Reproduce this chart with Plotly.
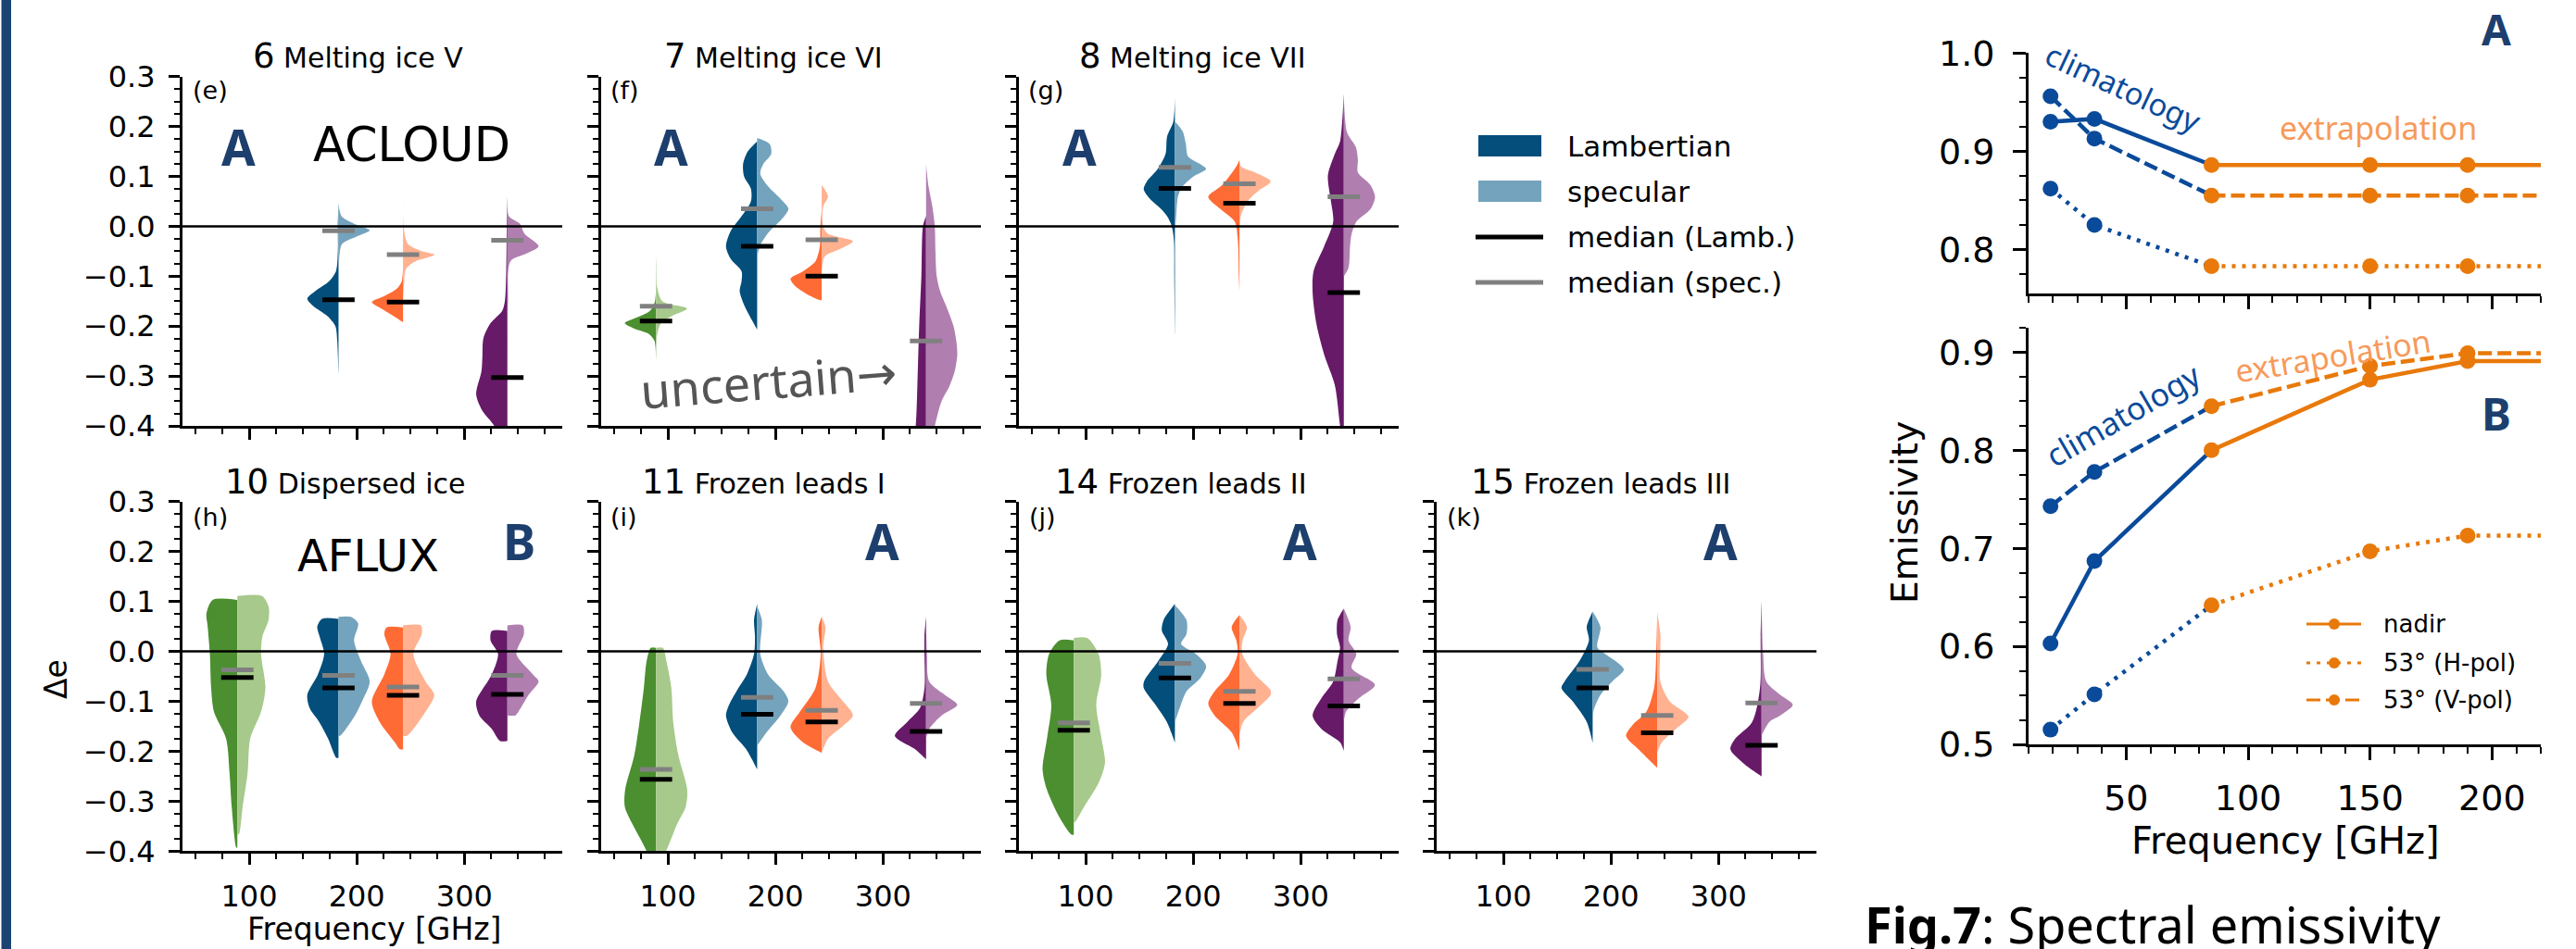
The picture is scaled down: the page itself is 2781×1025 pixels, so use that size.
import plotly.graph_objects as go

# ---------------- DATA ----------------
freqs = [89, 183, 243, 340]

# Violin half profiles: (delta_e, relative half width)
# Each entry: freq -> (lambertian profile, specular profile, median lamb, median spec)
panel_e = {
    183: ([(0.046, 0), (0.0, 0.02), (-0.05, 0.02), (-0.09, 0.08), (-0.11, 0.3), (-0.13, 0.75), (-0.145, 1.0), (-0.16, 0.8), (-0.18, 0.35), (-0.2, 0.1), (-0.23, 0.04), (-0.294, 0)],
          [(0.046, 0), (0.02, 0.1), (0.005, 0.5), (-0.008, 1.0), (-0.02, 0.6), (-0.035, 0.12), (-0.06, 0.03), (-0.15, 0.02), (-0.29, 0)],
          -0.147, -0.009),
    243: ([(-0.08, 0), (-0.11, 0.04), (-0.125, 0.2), (-0.14, 0.6), (-0.152, 1.0), (-0.165, 0.7), (-0.18, 0.3), (-0.192, 0)],
          [(0.06, 0), (0.0, 0.02), (-0.035, 0.15), (-0.05, 0.6), (-0.057, 1.0), (-0.07, 0.4), (-0.085, 0.1), (-0.12, 0.03), (-0.15, 0)],
          -0.152, -0.057),
    340: ([(0.06, 0), (0.0, 0.02), (-0.1, 0.04), (-0.15, 0.08), (-0.17, 0.17), (-0.195, 0.55), (-0.225, 0.77), (-0.26, 0.8), (-0.29, 0.83), (-0.337, 1.0), (-0.37, 0.8), (-0.4, 0.42), (-0.45, 0.1), (-0.5, 0)],
          [(0.052, 0), (0.02, 0.05), (0.005, 0.4), (-0.015, 0.55), (-0.04, 1.0), (-0.055, 0.6), (-0.07, 0.1), (-0.15, 0.02), (-0.3, 0)],
          -0.303, -0.028),
}
panel_f = {
    89: ([(-0.06, 0), (-0.15, 0.03), (-0.17, 0.2), (-0.185, 0.7), (-0.194, 1.0), (-0.205, 0.7), (-0.215, 0.25), (-0.23, 0.05), (-0.266, 0)],
         [(-0.06, 0), (-0.12, 0.03), (-0.15, 0.2), (-0.165, 1.0), (-0.18, 0.5), (-0.195, 0.15), (-0.22, 0.03), (-0.26, 0)],
         -0.19, -0.16),
    183: ([(0.17, 0), (0.15, 0.3), (0.125, 0.45), (0.1, 0.42), (0.075, 0.2), (0.05, 0.2), (0.02, 0.5), (-0.01, 0.85), (-0.04, 1.0), (-0.065, 0.85), (-0.09, 0.5), (-0.11, 0.5), (-0.13, 0.56), (-0.16, 0.4), (-0.19, 0.15), (-0.207, 0)],
          [(0.177, 0), (0.165, 0.4), (0.145, 0.45), (0.125, 0.2), (0.105, 0.1), (0.08, 0.35), (0.055, 0.75), (0.035, 1.0), (0.015, 0.8), (-0.01, 0.4), (-0.035, 0.12), (-0.06, 0)],
          -0.04, 0.035),
    243: ([(0.031, 0), (0.0, 0.04), (-0.04, 0.06), (-0.07, 0.2), (-0.09, 0.6), (-0.105, 1.0), (-0.12, 0.85), (-0.135, 0.5), (-0.148, 0.05)],
          [(0.083, 0), (0.06, 0.2), (0.04, 0.05), (0.0, 0.05), (-0.015, 0.2), (-0.03, 1.0), (-0.045, 0.6), (-0.06, 0.1), (-0.08, 0.02), (-0.09, 0)],
          -0.1, -0.027),
    340: ([(0.02, 0), (0.0, 0.1), (-0.1, 0.15), (-0.2, 0.22), (-0.3, 0.27), (-0.4, 0.33), (-0.45, 0.45), (-0.5, 0.6)],
          [(0.124, 0), (0.08, 0.08), (0.04, 0.2), (0.0, 0.28), (-0.05, 0.3), (-0.1, 0.34), (-0.13, 0.45), (-0.164, 0.67), (-0.2, 0.88), (-0.23, 0.97), (-0.257, 1.0), (-0.29, 0.92), (-0.32, 0.75), (-0.35, 0.5), (-0.4, 0.28), (-0.45, 0.1), (-0.5, 0)],
          -0.46, -0.23),
}
panel_g = {
    183: ([(0.257, 0), (0.21, 0.05), (0.18, 0.25), (0.145, 0.3), (0.115, 0.55), (0.09, 0.9), (0.074, 1.0), (0.055, 0.8), (0.035, 0.45), (0.02, 0.25), (0.0, 0.1), (-0.03, 0.03), (-0.1, 0.02), (-0.216, 0)],
          [(0.21, 0), (0.19, 0.25), (0.165, 0.35), (0.14, 0.42), (0.125, 0.8), (0.115, 1.0), (0.1, 0.6), (0.08, 0.25), (0.06, 0.1), (0.02, 0.04), (-0.02, 0)],
          0.076, 0.118),
    243: ([(0.133, 0), (0.12, 0.1), (0.083, 0.55), (0.059, 1.0), (0.034, 0.6), (0.009, 0.15), (-0.03, 0.05), (-0.1, 0.02), (-0.13, 0)],
          [(0.145, 0), (0.12, 0.05), (0.108, 0.5), (0.09, 1.0), (0.071, 0.6), (0.053, 0.3), (0.022, 0.05), (-0.02, 0)],
          0.046, 0.085),
    340: ([(0.266, 0), (0.17, 0.12), (0.145, 0.29), (0.102, 0.51), (0.053, 0.42), (0.009, 0.34), (-0.04, 0.63), (-0.09, 0.97), (-0.133, 1.0), (-0.195, 0.88), (-0.257, 0.63), (-0.318, 0.29), (-0.4, 0.12), (-0.45, 0)],
          [(0.269, 0), (0.189, 0.1), (0.158, 0.39), (0.133, 0.45), (0.108, 0.45), (0.083, 0.85), (0.059, 1.0), (0.034, 0.85), (0.009, 0.4), (-0.015, 0.25), (-0.04, 0.2), (-0.083, 0.15), (-0.1, 0)],
          -0.133, 0.059),
}
panel_h = {
    89: ([(0.103, 0.79), (0.076, 0.99), (0.049, 0.95), (-0.005, 0.88), (-0.073, 0.84), (-0.121, 0.75), (-0.175, 0.36), (-0.243, 0.25), (-0.311, 0.18), (-0.393, 0.03)],
         [(0.111, 0.79), (0.09, 1.0), (0.063, 1.0), (0.029, 0.8), (-0.005, 0.76), (-0.073, 0.9), (-0.121, 0.76), (-0.175, 0.41), (-0.243, 0.33), (-0.311, 0.17), (-0.366, 0.05)],
         -0.052, -0.037),
    183: ([(0.065, 0.53), (0.049, 0.68), (0.029, 0.6), (-0.005, 0.46), (-0.046, 0.66), (-0.087, 1.0), (-0.114, 0.92), (-0.141, 0.62), (-0.175, 0.33), (-0.213, 0.07)],
          [(0.069, 0.4), (0.056, 0.63), (0.022, 0.5), (-0.019, 0.72), (-0.06, 1.0), (-0.094, 0.8), (-0.128, 0.53), (-0.169, 0.05)],
          -0.073, -0.048),
    243: ([(0.048, 0.53), (0.035, 0.6), (-0.005, 0.4), (-0.046, 0.6), (-0.1, 1.0), (-0.141, 0.75), (-0.182, 0.26), (-0.196, 0.1)],
          [(0.052, 0.57), (0.035, 0.6), (-0.005, 0.33), (-0.06, 0.72), (-0.087, 1.0), (-0.121, 0.72), (-0.169, 0.13)],
          -0.088, -0.071),
    340: ([(0.041, 0.5), (0.022, 0.54), (-0.005, 0.3), (-0.046, 0.5), (-0.1, 1.0), (-0.128, 0.9), (-0.155, 0.5), (-0.179, 0.24)],
          [(0.052, 0.49), (0.035, 0.53), (-0.005, 0.29), (-0.046, 0.82), (-0.06, 1.0), (-0.087, 0.68), (-0.114, 0.42), (-0.128, 0.26)],
          -0.086, -0.048),
}
panel_i = {
    89: ([(0.007, 0.17), (-0.019, 0.3), (-0.073, 0.39), (-0.141, 0.53), (-0.209, 0.7), (-0.277, 0.99), (-0.311, 1.0), (-0.345, 0.76), (-0.4, 0.3), (-0.45, 0.05)],
         [(0.007, 0.22), (-0.019, 0.33), (-0.073, 0.49), (-0.141, 0.55), (-0.209, 0.72), (-0.277, 1.0), (-0.311, 0.95), (-0.345, 0.68), (-0.4, 0.32), (-0.43, 0.05)],
         -0.256, -0.236),
    183: ([(0.095, 0), (0.063, 0.1), (0.029, 0.07), (-0.005, 0.1), (-0.046, 0.33), (-0.073, 0.6), (-0.107, 0.9), (-0.128, 1.0), (-0.162, 0.8), (-0.196, 0.35), (-0.236, 0)],
          [(0.09, 0), (0.063, 0.15), (-0.005, 0.1), (-0.046, 0.35), (-0.08, 0.85), (-0.1, 1.0), (-0.128, 0.75), (-0.162, 0.3), (-0.189, 0)],
          -0.126, -0.092),
    243: ([(0.069, 0), (0.049, 0.1), (-0.005, 0.03), (-0.073, 0.2), (-0.121, 0.7), (-0.152, 1.0), (-0.182, 0.6), (-0.203, 0)],
          [(0.069, 0), (0.049, 0.12), (0.008, 0.05), (-0.06, 0.2), (-0.094, 0.6), (-0.128, 1.0), (-0.148, 0.7), (-0.175, 0.2), (-0.203, 0)],
          -0.141, -0.118),
    340: ([(0.069, 0), (0.029, 0.05), (-0.005, 0.05), (-0.073, 0.05), (-0.114, 0.2), (-0.141, 0.6), (-0.169, 1.0), (-0.196, 0.35), (-0.216, 0)],
          [(0.069, 0), (-0.005, 0.03), (-0.06, 0.1), (-0.087, 0.6), (-0.107, 1.0), (-0.128, 0.5), (-0.155, 0.1), (-0.175, 0)],
          -0.16, -0.104),
}
panel_j = {
    89: ([(0.022, 0.46), (-0.005, 0.79), (-0.046, 0.88), (-0.107, 0.72), (-0.175, 0.86), (-0.236, 1.0), (-0.277, 0.86), (-0.332, 0.46), (-0.367, 0.07)],
         [(0.027, 0.43), (-0.005, 0.79), (-0.046, 0.88), (-0.107, 0.72), (-0.175, 0.89), (-0.223, 1.0), (-0.264, 0.79), (-0.311, 0.33), (-0.342, 0.03)],
         -0.158, -0.143),
    183: ([(0.095, 0), (0.063, 0.36), (0.042, 0.42), (0.015, 0.22), (-0.019, 0.53), (-0.06, 0.99), (-0.073, 1.0), (-0.107, 0.62), (-0.141, 0.26), (-0.182, 0)],
          [(0.093, 0), (0.063, 0.37), (0.035, 0.37), (0.015, 0.2), (-0.005, 0.67), (-0.029, 1.0), (-0.053, 0.82), (-0.08, 0.37), (-0.114, 0.15), (-0.141, 0)],
          -0.053, -0.024),
    243: ([(0.073, 0), (0.049, 0.25), (0.022, 0.1), (-0.005, 0.06), (-0.046, 0.33), (-0.08, 0.8), (-0.104, 1.0), (-0.128, 0.8), (-0.162, 0.25), (-0.199, 0)],
          [(0.073, 0), (0.049, 0.24), (0.022, 0.1), (-0.005, 0.09), (-0.046, 0.5), (-0.077, 0.99), (-0.087, 1.0), (-0.114, 0.57), (-0.141, 0.12), (-0.168, 0)],
          -0.104, -0.08),
    340: ([(0.086, 0), (0.063, 0.2), (0.035, 0.22), (0.008, 0.12), (-0.019, 0.2), (-0.06, 0.34), (-0.094, 0.72), (-0.128, 1.0), (-0.155, 0.72), (-0.182, 0.12), (-0.199, 0)],
          [(0.086, 0), (0.049, 0.22), (0.022, 0.15), (-0.005, 0.4), (-0.033, 0.25), (-0.067, 1.0), (-0.094, 0.48), (-0.121, 0.07), (-0.141, 0)],
          -0.109, -0.055),
}
panel_k = {
    183: ([(0.08, 0), (0.049, 0.19), (0.022, 0.12), (-0.019, 0.42), (-0.06, 0.9), (-0.073, 1.0), (-0.1, 0.64), (-0.141, 0.19), (-0.182, 0)],
          [(0.08, 0), (0.049, 0.25), (0.008, 0.15), (-0.005, 0.4), (-0.036, 1.0), (-0.06, 0.63), (-0.087, 0.25), (-0.114, 0.05), (-0.128, 0)],
          -0.073, -0.036),
    243: ([(0.069, 0), (-0.005, 0.03), (-0.073, 0.1), (-0.121, 0.35), (-0.148, 0.8), (-0.169, 1.0), (-0.196, 0.6), (-0.233, 0)],
          [(0.079, 0), (0.035, 0.1), (0.001, 0.1), (-0.06, 0.1), (-0.1, 0.4), (-0.131, 1.0), (-0.155, 0.6), (-0.182, 0.15), (-0.203, 0)],
          -0.163, -0.128),
    340: ([(0.103, 0), (0.029, 0.03), (-0.073, 0.05), (-0.141, 0.3), (-0.175, 0.85), (-0.196, 1.0), (-0.223, 0.6), (-0.25, 0)],
          [(0.103, 0), (-0.005, 0.05), (-0.06, 0.15), (-0.087, 0.6), (-0.107, 1.0), (-0.128, 0.6), (-0.141, 0.25), (-0.168, 0)],
          -0.188, -0.103),
}

panel_numbers = ["6", "7", "8", "10", "11", "14", "15"]
panel_names = ["Melting ice V", "Melting ice VI", "Melting ice VII", "Dispersed ice",
               "Frozen leads I", "Frozen leads II", "Frozen leads III"]
panel_letters = ["(e)", "(f)", "(g)", "(h)", "(i)", "(j)", "(k)"]
panel_surface = ["A", "A", "A", "B", "A", "A", "A"]

delta_e_ticks = [-0.4, -0.3, -0.2, -0.1, 0.0, 0.1, 0.2, 0.3]
delta_e_labels = ["−0.4", "−0.3", "−0.2", "−0.1", "0.0", "0.1", "0.2", "0.3"]
freq_ticks = [100, 200, 300]
freq_labels = ["100", "200", "300"]

# Right panels: emissivity spectra
clim_freq = [19, 37, 85]
extr_freq = [85, 150, 190, 220]
A_nadir_clim = [0.930, 0.933, 0.886]
A_nadir_extr = [0.886, 0.886, 0.886, 0.886]
A_h_clim = [0.862, 0.825, 0.783]
A_h_extr = [0.783, 0.783, 0.783, 0.783]
A_v_clim = [0.956, 0.913, 0.855]
A_v_extr = [0.855, 0.855, 0.855, 0.855]
B_nadir_clim = [0.603, 0.687, 0.800]
B_nadir_extr = [0.800, 0.872, 0.891, 0.891]
B_h_clim = [0.515, 0.551, 0.642]
B_h_extr = [0.642, 0.697, 0.713, 0.713]
B_v_clim = [0.743, 0.778, 0.845]
B_v_extr = [0.845, 0.886, 0.899, 0.899]
emis_x_ticks = [50, 100, 150, 200]
emis_x_labels = ["50", "100", "150", "200"]
emisA_ticks = [0.8, 0.9, 1.0]
emisA_labels = ["0.8", "0.9", "1.0"]
emisB_ticks = [0.5, 0.6, 0.7, 0.8, 0.9]
emisB_labels = ["0.5", "0.6", "0.7", "0.8", "0.9"]

# ---------------- STYLE / LAYOUT ----------------
W, H = 2781, 1025
def px(x): return x / W
def py(y): return 1 - y / H

COLORS = {89: ("#4b8f30", "#a7c98b"), 183: ("#034e7b", "#74a3bd"),
          243: ("#ff6b35", "#ffb190"), 340: ("#671a67", "#b07fb0")}
NAVY = "#1d3f6e"
BLUE = "#0a4a9a"
ORANGE = "#e8790a"
ORANGE_TXT = "#f79a5a"
HW = 29.0      # max half width of a violin half, GHz
MED = 15.0     # half length of median bars, GHz

cols_x0 = [197, 649, 1100, 1551]
PW = 410
ROW_TOP = (82.7, 460.0)
ROW_BOT = (541.7, 919.4)
panels = [panel_e, panel_f, panel_g, panel_h, panel_i, panel_j, panel_k]
grid = [(0, ROW_TOP), (1, ROW_TOP), (2, ROW_TOP), (0, ROW_BOT), (1, ROW_BOT), (2, ROW_BOT), (3, ROW_BOT)]

fig = go.Figure()
layout = {}

def axname(n, kind):
    return kind + ("" if n == 1 else str(n))

for idx, (data, (col, (yt, yb))) in enumerate(zip(panels, grid)):
    n = idx + 1
    xa, ya = axname(n, "x"), axname(n, "y")
    for f in freqs:
        if f not in data:
            continue
        lam, spe, mL, mS = data[f]
        for prof, sgn, colr in ((lam, -1, COLORS[f][0]), (spe, 1, COLORS[f][1])):
            xs = [f] + [f + sgn * w * HW for _, w in prof] + [f]
            ys = [prof[0][0]] + [v for v, _ in prof] + [prof[-1][0]]
            fig.add_trace(go.Scatter(x=xs, y=ys, mode="lines", fill="toself", fillcolor=colr,
                                     line=dict(width=0, color=colr, shape="spline", smoothing=0.8),
                                     hoverinfo="skip", showlegend=False, xaxis=xa, yaxis=ya))
    for key, colr in ((2, "black"), (3, "#808080")):
        mx, my = [], []
        for f in freqs:
            if f in data:
                m = data[f][key]
                mx += [f - MED, f + MED, None]
                my += [m, m, None]
        fig.add_trace(go.Scatter(x=mx, y=my, mode="lines", line=dict(color=colr, width=5),
                                 hoverinfo="skip", showlegend=False, xaxis=xa, yaxis=ya))
    x0 = cols_x0[col]
    bottom = (yt, yb) == ROW_BOT
    layout["xaxis" + ("" if n == 1 else str(n))] = dict(
        domain=[px(x0), px(x0 + PW)], anchor=ya, range=[38, 391],
        showline=True, linewidth=3, linecolor="black", showgrid=False, zeroline=False,
        ticks="outside", ticklen=12, tickwidth=3, tickcolor="black",
        tickmode="array", tickvals=freq_ticks, ticktext=freq_labels,
        showticklabels=bottom, ticklabelstandoff=6, automargin=False,
        tickfont=dict(size=32, family="DejaVu Sans", color="black"),
        minor=dict(dtick=25, tick0=0, ticklen=6, tickwidth=2, ticks="outside", tickcolor="black"))
    layout["yaxis" + ("" if n == 1 else str(n))] = dict(
        domain=[py(yb), py(yt)], anchor=xa, range=[-0.4, 0.3],
        showline=True, linewidth=3, linecolor="black", showgrid=False, zeroline=False,
        ticks="outside", ticklen=12, tickwidth=3, tickcolor="black",
        tickmode="array", tickvals=delta_e_ticks, ticktext=delta_e_labels,
        showticklabels=(col == 0), ticklabelstandoff=8, automargin=False,
        tickfont=dict(size=32, family="DejaVu Sans", color="black"),
        minor=dict(dtick=0.025, tick0=0, ticklen=6, tickwidth=2, ticks="outside", tickcolor="black"))
    # zero line above violins
    fig.add_shape(type="line", xref=xa + " domain", x0=0, x1=1, yref=ya, y0=0, y1=0,
                  line=dict(color="black", width=2.5), layer="above")

# ---- right panels ----
RX0, RX1 = 2190, 2743
RA = (57.3, 317.3)
RB = (354.0, 804.0)
DOT = "4px,7px"
DASH = "15px,6px"

def add_emis(n, clim, extr, dash):
    xa, ya = axname(n, "x"), axname(n, "y")
    fig.add_trace(go.Scatter(x=clim_freq, y=clim, mode="lines",
                             line=dict(color=BLUE, width=4.5, dash=dash),
                             hoverinfo="skip", showlegend=False, xaxis=xa, yaxis=ya))
    fig.add_trace(go.Scatter(x=extr_freq, y=extr, mode="lines",
                             line=dict(color=ORANGE, width=4.5, dash=dash),
                             hoverinfo="skip", showlegend=False, xaxis=xa, yaxis=ya))
    fig.add_trace(go.Scatter(x=clim_freq[:2], y=clim[:2], mode="markers",
                             marker=dict(size=17, color=BLUE, opacity=1, line=dict(width=0)),
                             hoverinfo="skip", showlegend=False, xaxis=xa, yaxis=ya))
    fig.add_trace(go.Scatter(x=extr_freq[:3], y=extr[:3], mode="markers",
                             marker=dict(size=17, color=ORANGE, opacity=1, line=dict(width=0)),
                             hoverinfo="skip", showlegend=False, xaxis=xa, yaxis=ya))

add_emis(8, A_nadir_clim, A_nadir_extr, "solid")
add_emis(8, A_v_clim, A_v_extr, DASH)
add_emis(8, A_h_clim, A_h_extr, DOT)
add_emis(9, B_nadir_clim, B_nadir_extr, "solid")
add_emis(9, B_v_clim, B_v_extr, DASH)
add_emis(9, B_h_clim, B_h_extr, DOT)

for n, (yt, yb), rng, tv, tt, showx in ((8, RA, [0.755, 1.0], emisA_ticks, emisA_labels, False),
                                        (9, RB, [0.5, 0.925], emisB_ticks, emisB_labels, True)):
    layout["xaxis%d" % n] = dict(
        domain=[px(RX0), px(RX1)], anchor="y%d" % n, range=[10, 220],
        showline=True, linewidth=3, linecolor="black", showgrid=False, zeroline=False,
        ticks="outside", ticklen=14, tickwidth=3, tickcolor="black",
        tickmode="array", tickvals=emis_x_ticks, ticktext=emis_x_labels,
        showticklabels=showx, ticklabelstandoff=8, automargin=False,
        tickfont=dict(size=38, family="DejaVu Sans", color="black"),
        minor=dict(dtick=10, tick0=0, ticklen=7, tickwidth=2, ticks="outside", tickcolor="black"))
    layout["yaxis%d" % n] = dict(
        domain=[py(yb), py(yt)], anchor="x%d" % n, range=rng,
        showline=True, linewidth=3, linecolor="black", showgrid=False, zeroline=False,
        ticks="outside", ticklen=14, tickwidth=3, tickcolor="black",
        tickmode="array", tickvals=tv, ticktext=tt, ticklabelstandoff=12, automargin=False,
        tickfont=dict(size=38, family="DejaVu Sans", color="black"),
        minor=dict(dtick=0.025, tick0=0, ticklen=7, tickwidth=2, ticks="outside", tickcolor="black"))

# ---------------- ANNOTATIONS ----------------
def ann(text, x, y, size, color="black", family="DejaVu Sans", xanchor="center",
        yanchor="middle", angle=0):
    fig.add_annotation(text=text, x=px(x), y=py(y), xref="paper", yref="paper", showarrow=False,
                       font=dict(size=size, color=color, family=family),
                       xanchor=xanchor, yanchor=yanchor, textangle=angle)

title_cx = [386, 835, 1287, 372, 824, 1275, 1728]
title_cy = [60, 60, 60, 520, 520, 520, 520]
for i in range(7):
    ann("<span style='font-size:37px'>%s</span> %s" % (panel_numbers[i], panel_names[i]),
        title_cx[i], title_cy[i], 30)
letter_pos = [(206, 98), (657, 98), (1108, 98), (206, 558), (657, 558), (1109, 558), (1560, 558)]
for i, (x, y) in enumerate(letter_pos):
    ann(panel_letters[i], x, y, 27, xanchor="left")
surf_pos = [(257, 158), (724, 158), (1165, 158), (560, 584), (952, 584), (1403, 584), (1857, 584)]
for i, (x, y) in enumerate(surf_pos):
    ann("<b>%s</b>" % panel_surface[i], x, y, 53, color=NAVY, family="Noto Sans")
ann("ACLOUD", 444, 156, 51)
ann("AFLUX", 397, 600, 48)
ann("uncertain<span style='font-family:DejaVu Sans'>→</span>", 830, 410, 52,
    color="#555555", family="Noto Sans", angle=-4.5)
ann("Δe", 60, 734, 33, angle=-90)
ann("Frequency [GHz]", 404, 1003, 33)

# left legend
leg_rows = [158, 207, 256, 305]
fig.add_shape(type="rect", xref="paper", yref="paper", x0=px(1596), x1=px(1664),
              y0=py(169), y1=py(146), fillcolor="#034e7b", line=dict(width=0))
fig.add_shape(type="rect", xref="paper", yref="paper", x0=px(1596), x1=px(1664),
              y0=py(218), y1=py(195), fillcolor="#74a3bd", line=dict(width=0))
fig.add_shape(type="line", xref="paper", yref="paper", x0=px(1593), x1=px(1666),
              y0=py(256), y1=py(256), line=dict(color="black", width=5))
fig.add_shape(type="line", xref="paper", yref="paper", x0=px(1593), x1=px(1666),
              y0=py(305), y1=py(305), line=dict(color="#808080", width=5))
for lbl, y in zip(["Lambertian", "specular", "median (Lamb.)", "median (spec.)"], leg_rows):
    ann(lbl, 1690, y, 31, xanchor="left")

# right panel texts
ann("<b>A</b>", 2695, 31, 46, color=NAVY, family="Noto Sans")
ann("<b>B</b>", 2695, 447, 48, color=NAVY, family="Noto Sans")
ann("climatology", 2292, 95, 33, color=BLUE, family="Noto Sans", angle=25)
ann("extrapolation", 2567, 138, 34, color=ORANGE_TXT, family="Noto Sans")
ann("climatology", 2292, 448, 34, color=BLUE, family="Noto Sans", angle=-30)
ann("extrapolation", 2518, 384, 34, color=ORANGE_TXT, family="Noto Sans", angle=-9)
ann("Emissivity", 2056, 554, 39, angle=-90)
ann("Frequency [GHz]", 2467, 908, 40)

# right legend
r_rows = [674, 716, 756]
for y, d, lbl in zip(r_rows, ["solid", DOT, DASH], ["nadir", "53° (H-pol)", "53° (V-pol)"]):
    fig.add_shape(type="line", xref="paper", yref="paper", x0=px(2490), x1=px(2549),
                  y0=py(y), y1=py(y), line=dict(color=ORANGE, width=3, dash=d))
    fig.add_shape(type="circle", xref="paper", yref="paper", x0=px(2514), x1=px(2526),
                  y0=py(y + 6), y1=py(y - 6), fillcolor=ORANGE, line=dict(width=0))
    ann(lbl, 2571, y, 26, xanchor="left")

# caption (cut at the bottom edge as in the original)
ann("<b>Fig.7</b>: Spectral emissivity", 2011, 998, 54, family="Noto Sans", xanchor="left")

# left decorative bar
fig.add_shape(type="rect", xref="paper", yref="paper", x0=px(1.5), x1=px(12), y0=0, y1=1,
              fillcolor="#1d4373", line=dict(width=0), layer="below")

fig.update_layout(width=W, height=H,
                  margin=dict(l=0, r=0, t=0, b=0, pad=0, autoexpand=False),
                  paper_bgcolor="white", plot_bgcolor="white",
                  font=dict(family="DejaVu Sans", color="black"), showlegend=False, **layout)

fig.write_html("out.html")
